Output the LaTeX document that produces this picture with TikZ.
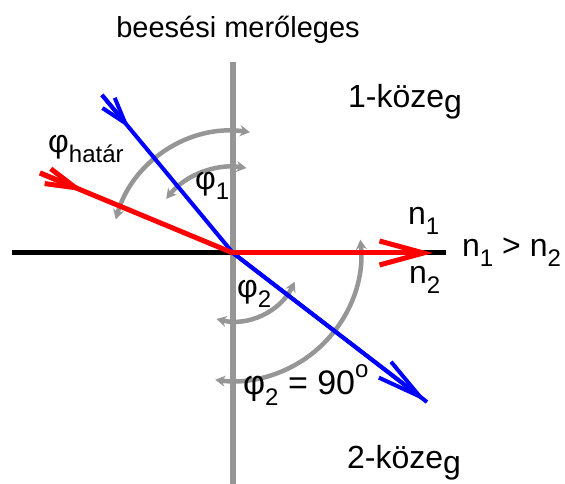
\documentclass[tikz,border=0pt]{standalone}
\usepackage{fontspec}
\setmainfont{Liberation Sans}
\usetikzlibrary{arrows.meta, calc}
\definecolor{normgray}{RGB}{150,150,150}
\definecolor{rayblue}{RGB}{0,0,255}
\definecolor{rayred}{RGB}{255,0,0}
\newcommand{\lowsub}[1]{\raisebox{-0.3em}{\fontsize{24}{24}\selectfont #1}}

\begin{document}
\begin{tikzpicture}[x=1pt, y=1pt,
    lbl/.style={inner sep=0pt, anchor=base west, font=\fontsize{32}{32}\selectfont},
    anglearc/.style={draw=normgray, line width=4.5pt,
      {Stealth[length=10pt, width=11pt]}-{Stealth[length=10pt, width=11pt]}},
    barb/.style 2 args={-{Straight Barb[length=#1, width=#2]}}]
        \useasboundingbox (-233,-231) rectangle (332,253);
        % points of the rays
        \coordinate (O) at (0,0);
        \coordinate (ntop) at (0,191);
        \coordinate (nbot) at (0,-231);
        \coordinate (hleft) at (-221,0);
        \coordinate (hright) at (213,0);
        \coordinate (bluein) at (-131,158);
        \coordinate (blueout) at (194,-149);
        \coordinate (redin) at (-193,80);
        \coordinate (redout) at (200,0);
        % normal and boundary
        \draw[normgray, line width=6pt] (ntop) -- (nbot);
        \draw[black, line width=5pt] (hleft) -- (hright);
        % angles
        \draw[anglearc] ($(O)+(164:122)$) arc[start angle=164, end angle=82, radius=122];
        \draw[anglearc] ($(O)+(141:86)$) arc[start angle=141, end angle=81, radius=86];
        \draw[anglearc] ($(O)+(-25:68)$) arc[start angle=-25, end angle=-104, radius=68];
        \draw[anglearc] ($(O)+(6:128)$) arc[start angle=6, end angle=-98, radius=128];
        % blue ray
        \draw[rayblue, line width=4pt] (bluein) -- (O) -- (blueout);
        \draw[rayblue, line width=4pt, barb={26pt}{16pt}] (bluein) -- ($(bluein)!0.21!(O)$);
        \draw[rayblue, line width=4pt, barb={44pt}{20pt}] (O) -- (blueout);
        % red ray
        \draw[rayred, line width=5pt] (redin) -- (O);
        \draw[rayred, line width=5pt, barb={30pt}{16pt}] (redin) -- ($(redin)!0.23!(O)$);
        \draw[rayred, line width=5pt, barb={44pt}{24pt}] (O) -- (redout);
        % labels
        \node[inner sep=0pt, anchor=base, font=\fontsize{29}{29}\selectfont] (normlbl) at (5,215) {beesési merőleges};
        \node[lbl] (med1) at (115,145) {1-köze\raisebox{-5pt}{g}};
        \node[lbl] (med2) at (114,-215) {2-köze\raisebox{-5pt}{g}};
        \node[lbl] (nup) at (175,28) {n\lowsub{1}};
        \node[lbl] (ndown) at (176,-31) {n\lowsub{2}};
        \node[lbl] (nrel) at (229,-4) {n\lowsub{1} > n\lowsub{2}};
        \node[lbl] (phicrit) at (-185,100) {φ\lowsub{határ}};
        \node[lbl] (phione) at (-38,63) {φ\lowsub{1}};
        \node[lbl] (phitwo) at (4,-45) {φ\lowsub{2}};
        \node[lbl, font=\fontsize{34}{34}\selectfont] (phiright) at (10,-142) {φ\lowsub{2} = 90\raisebox{0.5em}{\fontsize{24}{24}\selectfont o}};
      \end{tikzpicture}
\end{document}
